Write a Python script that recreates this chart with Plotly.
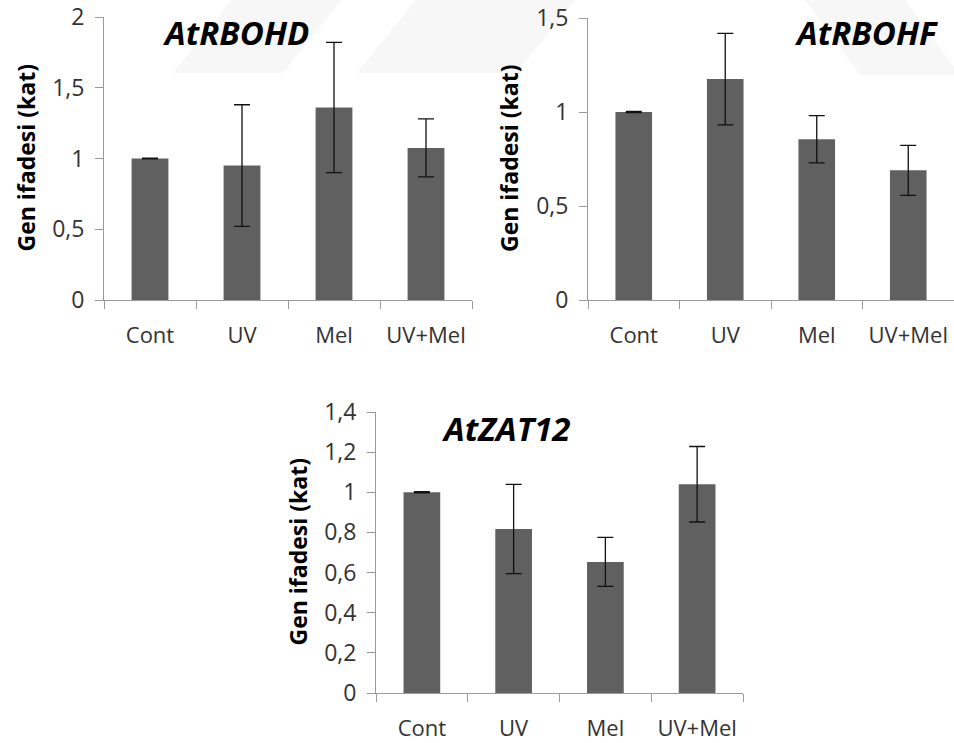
import plotly.graph_objects as go

categories = ["Cont", "UV", "Mel", "UV+Mel"]

rbohd_values = [1.0, 0.95, 1.36, 1.075]
rbohd_errors = [0.003, 0.43, 0.46, 0.205]

rbohf_values = [1.0, 1.175, 0.855, 0.69]
rbohf_errors = [0.003, 0.243, 0.126, 0.133]

zat12_values = [1.0, 0.817, 0.653, 1.04]
zat12_errors = [0.003, 0.222, 0.122, 0.188]

panel_titles = ["AtRBOHD", "AtRBOHF", "AtZAT12"]
y_title = "Gen ifadesi (kat)"

W, H = 954, 743

def px(x):
    return x / W

def py(y):
    return 1 - y / H

BAR = "#606060"
AXIS = "#9a9a9a"
TXT = "#333333"
FONT = "Open Sans"

fig = go.Figure()

panels = [
    dict(vals=rbohd_values, errs=rbohd_errors, xa="x", ya="y",
         xd=[px(104), px(472)], yd=[py(300), py(17)], rng=[0, 2], dt=0.5,
         title=panel_titles[0], tx=236, ty=32, ytx=26, yty=158.5),
    dict(vals=rbohf_values, errs=rbohf_errors, xa="x2", ya="y2",
         xd=[px(588), 1.0], yd=[py(300), py(18)], rng=[0, 1.5], dt=0.5,
         title=panel_titles[1], tx=866, ty=33, ytx=509, yty=159),
    dict(vals=zat12_values, errs=zat12_errors, xa="x3", ya="y3",
         xd=[px(376), px(743)], yd=[py(693), py(412)], rng=[0, 1.4], dt=0.2,
         title=panel_titles[2], tx=506, ty=428, ytx=297, yty=552.5),
]

annotations = []
for i, p in enumerate(panels):
    fig.add_trace(go.Bar(
        x=categories, y=p["vals"], xaxis=p["xa"], yaxis=p["ya"],
        marker=dict(color=BAR, line=dict(width=0)),
        width=0.4,
        error_y=dict(type="data", array=p["errs"], visible=True,
                     color="#111111", thickness=1.3, width=8),
        showlegend=False,
    ))
    sfx = "" if i == 0 else str(i + 1)
    fig.layout["xaxis" + sfx] = dict(
        domain=p["xd"], anchor="y" + sfx, type="category",
        range=[-0.5, 3.5], tickson="boundaries", ticks="outside",
        ticklen=8, tickcolor=AXIS, showline=True, linecolor=AXIS,
        linewidth=1, showgrid=False, zeroline=False, automargin=False,
        ticklabelstandoff=16,
        tickfont=dict(family=FONT, size=22, color=TXT),
        fixedrange=True,
    )
    fig.layout["yaxis" + sfx] = dict(
        domain=p["yd"], anchor="x" + sfx, range=p["rng"], dtick=p["dt"],
        tick0=0, ticks="outside", ticklen=8, tickcolor=AXIS,
        showline=True, linecolor=AXIS, linewidth=1, showgrid=False,
        zeroline=False, ticklabelstandoff=6, automargin=False,
        tickfont=dict(family=FONT, size=23, color=TXT),
        fixedrange=True,
    )
    annotations.append(dict(
        text="<b><i>%s</i></b>" % p["title"], xref="paper", yref="paper",
        x=px(p["tx"]), y=py(p["ty"]), xanchor="center", yanchor="middle",
        showarrow=False, font=dict(family=FONT, size=33, color="#000000"),
    ))
    annotations.append(dict(
        text="<b>%s</b>" % y_title, xref="paper", yref="paper",
        x=px(p["ytx"]), y=py(p["yty"]), xanchor="center", yanchor="middle",
        textangle=-90, showarrow=False,
        font=dict(family=FONT, size=23, color="#000000"),
    ))

# faint background watermark stripes
stripes = [
    [(232, 0), (342, 0), (283, 73), (173, 73)],
    [(416, 0), (575, 0), (516, 73), (357, 73)],
    [(805, 0), (905, 0), (960, 75), (860, 75)],
]
shapes = []
for s in stripes:
    path = "M " + " L ".join("%f,%f" % (px(a), py(b)) for a, b in s) + " Z"
    shapes.append(dict(type="path", path=path, xref="paper", yref="paper",
                       fillcolor="#f7f7f7", line=dict(width=0), layer="below"))

fig.update_layout(
    width=W, height=H,
    margin=dict(l=0, r=0, t=0, b=0, autoexpand=False),
    paper_bgcolor="white", plot_bgcolor="rgba(0,0,0,0)",
    separators=", ",
    annotations=annotations, shapes=shapes,
    font=dict(family=FONT, color=TXT),
)

fig.write_html("out.html")
